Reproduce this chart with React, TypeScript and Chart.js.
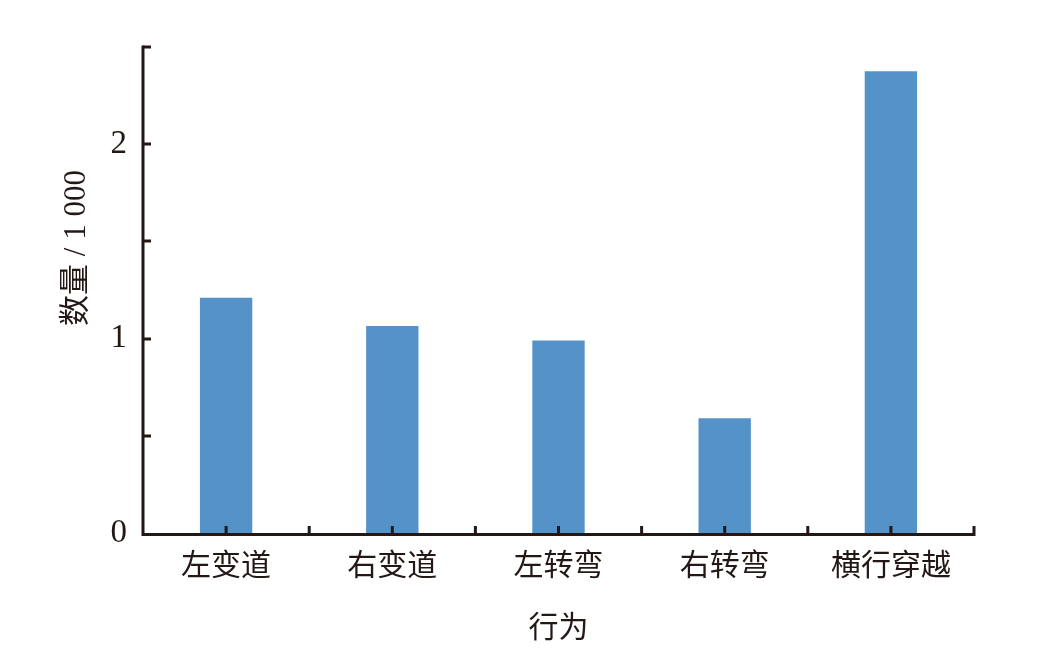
import React, { useEffect, useRef } from "react";
import { Chart, registerables } from "chart.js";

Chart.register(...registerables);

const categories = ["左变道", "右变道", "左转弯", "右转弯", "横行穿越"];
const counts = [1.21, 1.065, 0.99, 0.59, 2.375];
const yTickLabels = ["0", "1", "2"];
const xTitle = "行为";
const yTitle = "数量 / 1 000";

const INK = "#231815";
const FONT = '"Liberation Serif", "Noto Sans CJK SC", serif';

const axesPlugin = {
  id: "axesPlugin",
  afterDatasetsDraw(chart: any) {
    const { ctx, scales } = chart;
    const x = scales.x;
    const y = scales.y;
    const left = x.left;
    const right = x.right;
    const bottom = y.bottom;
    const top = y.top;
    ctx.save();
    ctx.strokeStyle = INK;
    ctx.lineWidth = 3;
    ctx.lineCap = "butt";
    ctx.beginPath();
    ctx.moveTo(left, top - 1.5);
    ctx.lineTo(left, bottom + 1.5);
    ctx.lineTo(right + 1.5, bottom + 1.5);
    ctx.stroke();
    for (let v = 0.5; v <= 2.5001; v += 0.5) {
      const py = Math.round(y.getPixelForValue(v));
      ctx.beginPath();
      ctx.moveTo(left, py);
      ctx.lineTo(left + 8, py);
      ctx.stroke();
    }
    const n = categories.length;
    for (let i = 0; i < n; i++) {
      const pc = x.getPixelForValue(i);
      const pb = x.getPixelForValue(i + 0.5);
      [pc, pb].forEach((p) => {
        ctx.beginPath();
        ctx.moveTo(p, bottom);
        ctx.lineTo(p, bottom - 7);
        ctx.stroke();
      });
    }
    ctx.fillStyle = INK;
    ctx.font = `31px ${FONT}`;
    ctx.textAlign = "center";
    ctx.textBaseline = "middle";
    ctx.translate(77, 248);
    ctx.rotate(-Math.PI / 2);
    ctx.fillText(yTitle, 0, 0);
    ctx.restore();
  },
};

export default function App() {
  const ref = useRef<HTMLCanvasElement | null>(null);
  useEffect(() => {
    if (!ref.current) return;
    const chart = new Chart(ref.current, {
      type: "bar",
      data: {
        labels: categories,
        datasets: [
          {
            data: counts,
            backgroundColor: "#5592c8",
            borderWidth: 0,
            categoryPercentage: 1,
            barPercentage: 0.315,
          },
        ],
      },
      options: {
        animation: false,
        responsive: false,
        devicePixelRatio: 1,
        layout: { padding: { left: 0, top: 47, right: 64, bottom: 0 } },
        plugins: {
          legend: { display: false },
          tooltip: { enabled: false },
        },
        scales: {
          x: {
            offset: true,
            grid: { display: false, drawTicks: false },
            border: { display: false },
            ticks: {
              color: INK,
              font: { family: FONT, size: 30 },
              padding: 16,
            },
            title: {
              display: true,
              text: xTitle,
              color: INK,
              font: { family: FONT, size: 30 },
              padding: { top: 0, bottom: 16 },
            },
            afterFit: (s: any) => {
              s.height = 663 - 533;
            },
          },
          y: {
            min: 0,
            max: 2.5,
            grid: { display: false, drawTicks: false },
            border: { display: false },
            ticks: {
              stepSize: 0.5,
              color: INK,
              font: { family: FONT, size: 33 },
              padding: 16,
              callback: (v: any) => {
                const s = String(v);
                return yTickLabels.includes(s) ? s : "";
              },
            },
            afterFit: (s: any) => {
              s.width = 143;
            },
          },
        },
      },
      plugins: [axesPlugin],
    });
    return () => chart.destroy();
  }, []);
  return (
    <div style={{ position: "absolute", left: 0, top: 0, width: 1038, height: 663, background: "#fff" }}>
      <canvas ref={ref} width={1038} height={663} style={{ display: "block" }} />
    </div>
  );
}
